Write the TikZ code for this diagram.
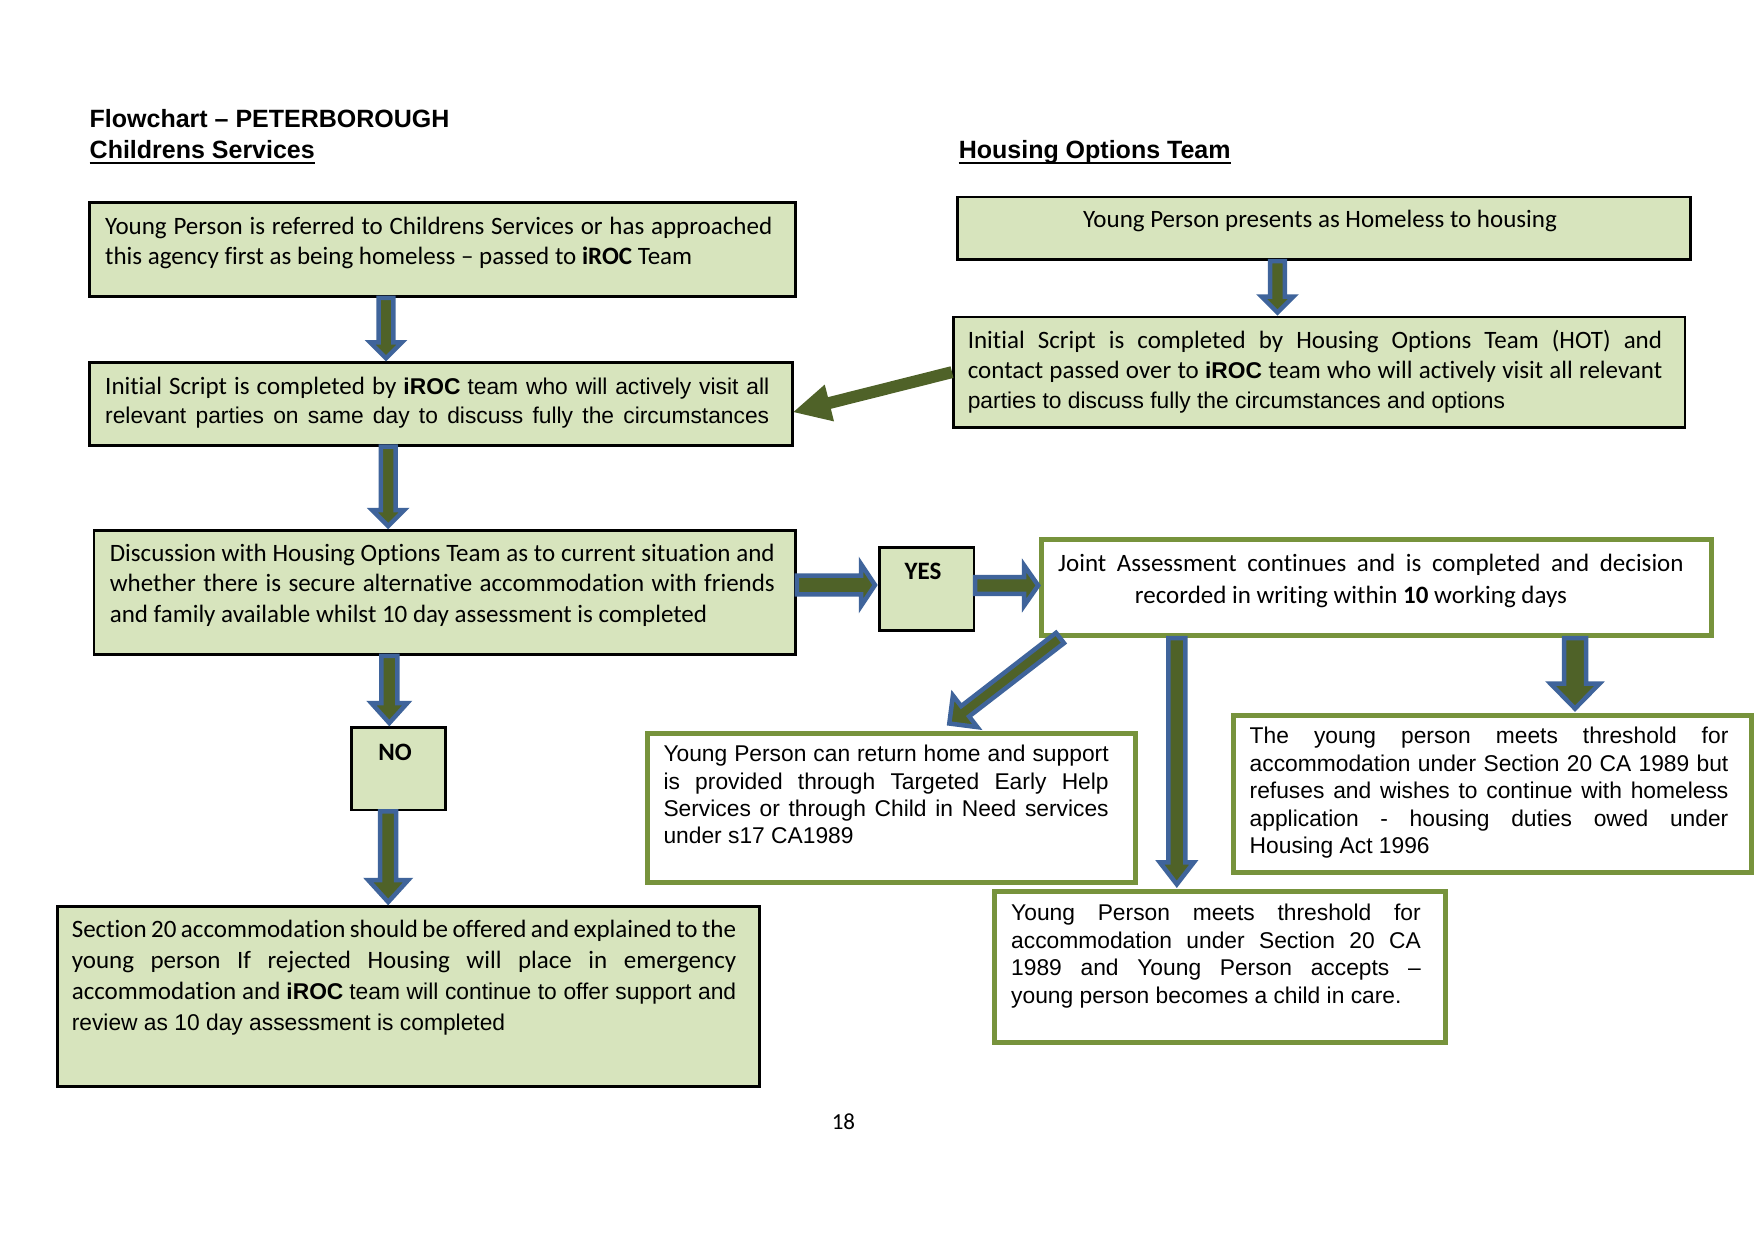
\documentclass[tikz,border=0pt]{standalone}
\usepackage{fontspec}
\setmainfont[Ligatures=NoCommon]{Carlito}
\newfontfamily\calib[Ligatures=NoCommon]{Carlito}
\newfontfamily\ari{Liberation Sans}
\usetikzlibrary{calc}
\definecolor{lg}{HTML}{D7E4BD}
\definecolor{bgreen}{HTML}{77933C}
\definecolor{olive}{HTML}{4F6228}
\definecolor{ablue}{HTML}{3F649B}
\newcommand\fC{\calib\fontsize{25}{30.5}\selectfont}
\newcommand\fA{\ari\fontsize{22.8}{27.4}\selectfont}
\newcommand\JL[2]{\hbox to #1pt{#2}}
\newcommand\NL[1]{\hbox{#1}}
\newcommand\barrow[6]{%
  \coordinate (ba-s) at (#2);
  \coordinate (ba-e) at (#3);
  \coordinate (ba-h) at ($(ba-e)!#6!(ba-s)$);
  \draw[#1] ($(ba-s)!#4!90:(ba-e)$) -- ($(ba-h)!#4!-90:(ba-s)$) -- ($(ba-h)!#5!-90:(ba-s)$) -- (ba-e) -- ($(ba-h)!#5!90:(ba-s)$) -- ($(ba-h)!#4!90:(ba-s)$) -- ($(ba-s)!#4!-90:(ba-e)$) -- cycle;}
\tikzset{
  cbox/.style={draw=black, line width=2.6pt, fill=lg, inner sep=0pt, anchor=north west},
  gbox/.style={draw=bgreen, line width=5pt, fill=white, inner sep=0pt, anchor=north west},
  txt/.style={inner sep=0pt, anchor=base west},
  blk/.style={draw=ablue, fill=olive, line width=4.5pt, line join=miter},
  garrow/.style={fill=olive, draw=none},
}
\begin{document}
\begin{tikzpicture}[x=1pt, y=-1pt]
\fill[white] (0,0) rectangle (1754,1240);
\path[use as bounding box] (0,0) rectangle (1754,1240);

% headings
\node[txt, font=\ari\fontsize{25}{30}\selectfont\bfseries] (title) at (89.5,127.5) {Flowchart – PETERBOROUGH};
\node[txt, font=\ari\fontsize{25}{30}\selectfont\bfseries] (tcs) at (89.5,158) {Childrens Services};
\node[txt, font=\ari\fontsize{25}{30}\selectfont\bfseries] (thot) at (958.6,158) {Housing Options Team};
\draw[line width=2pt] ([yshift=-4.5pt]tcs.base west) -- ([yshift=-4.5pt]tcs.base east);
\draw[line width=2pt] ([yshift=-4.5pt]thot.base west) -- ([yshift=-4.5pt]thot.base east);

% boxes
\node[cbox, minimum width=705.8pt, minimum height=94pt] (b1) at (88.4,201.3) {};
\node[cbox, minimum width=702.5pt, minimum height=82.8pt] (b2) at (88.4,361.3) {};
\node[cbox, minimum width=701.4pt, minimum height=124.2pt] (b3) at (92.8,529.1) {};
\node[cbox, minimum width=94.5pt, minimum height=83pt] (yes) at (878,546) {};
\node[cbox, minimum width=94pt, minimum height=82.7pt] (no) at (350.1,726) {};
\node[cbox, minimum width=702.5pt, minimum height=180pt] (s20) at (55.9,905) {};
\node[cbox, minimum width=732.7pt, minimum height=62.6pt] (h1) at (956.4,195.8) {};
\node[cbox, minimum width=731.5pt, minimum height=110.7pt] (h2) at (952,315.5) {};
\node[gbox, minimum width=670pt, minimum height=96pt] (ja) at (1039.2,537) {};
\node[gbox, minimum width=487.8pt, minimum height=149.9pt] (ret) at (645.4,730.5) {};
\node[gbox, minimum width=518pt, minimum height=157.7pt] (thr) at (1230.5,712.6) {};
\node[gbox, minimum width=450.8pt, minimum height=151pt] (acc) at (992.2,889.3) {};

% texts
\node[txt] (t1) at (105,234) {\vtop{\fC
  \JL{667}{Young Person is referred to Childrens Services or has approached}
  \NL{this agency first as being homeless – passed to \textbf{iROC} Team}}};
\node[txt] (t2) at (105,394) {\vtop{\calib\fontsize{25}{29}\selectfont
  \JL{664}{Initial Script is completed by {\fA\bfseries iROC} {\fA team who will actively visit all}}
  \JL{664}{\fA relevant parties on same day to discuss fully the circumstances}}};
\node[txt] (t3) at (109.6,561.5) {\vtop{\calib\fontsize{25}{30.3}\selectfont
  \JL{665}{Discussion with Housing Options Team as to current situation and}
  \JL{665}{whether there is secure alternative accommodation with friends}
  \NL{and family available whilst 10 day assessment is completed}}};
\node[anchor=base, inner sep=0pt, font=\fC\bfseries] (tyes) at (923,579.5) {YES};
\node[anchor=base, inner sep=0pt, font=\fC\bfseries] (tno) at (395,760) {NO};
\node[txt] (t4) at (71.6,937.4) {\vtop{\calib\fontsize{25}{31}\selectfont
  \JL{664.4}{Section 20 accommodation should be offered and explained to the}
  \JL{664.4}{young person If rejected Housing will place in emergency}
  \JL{664.4}{accommodation and {\fA\bfseries iROC} {\fA team will continue to offer support and}}
  \NL{\fA review as 10 day assessment is completed}}};
\node[anchor=base, inner sep=0pt, font=\fC] (th1) at (1320,227) {Young Person presents as Homeless to housing};
\node[txt] (th2) at (967.6,348) {\vtop{\calib\fontsize{25}{30}\selectfont
  \JL{694.4}{Initial Script is completed by Housing Options Team (HOT) and}
  \JL{694.4}{contact passed over to {\fA\bfseries iROC} team who will actively visit all relevant}
  \NL{\fA parties to discuss fully the circumstances and options}}};
\node[txt] (tja) at (1058,571.6) {\vtop{\calib\fontsize{25}{31.4}\selectfont
  \JL{625.5}{Joint Assessment continues and is completed and decision}
  \JL{625.5}{\hfil recorded in writing within \textbf{10} working days\hfil\hskip40pt}}};
\node[txt] (tret) at (663.3,761.8) {\vtop{\ari\fontsize{22.8}{27.2}\selectfont
  \JL{445.2}{Young Person can return home and support}
  \JL{445.2}{is provided through Targeted Early Help}
  \JL{445.2}{Services or through Child in Need services}
  \NL{under s17 CA1989}}};
\node[txt] (tthr) at (1249.5,743.9) {\vtop{\ari\fontsize{22.8}{27.4}\selectfont
  \JL{478.7}{The young person meets threshold for}
  \JL{478.7}{accommodation under Section 20 CA 1989 but}
  \JL{478.7}{refuses and wishes to continue with homeless}
  \JL{478.7}{application - housing duties owed under}
  \NL{Housing Act 1996}}};
\node[txt] (tacc) at (1011,920.6) {\vtop{\ari\fontsize{22.8}{27.6}\selectfont
  \JL{409.6}{Young Person meets threshold for}
  \JL{409.6}{accommodation under Section 20 CA}
  \JL{409.6}{1989 and Young Person accepts –}
  \NL{young person becomes a child in care.}}};
\node[anchor=base, inner sep=0pt, font=\calib\fontsize{23}{28}\selectfont] (pg) at (843.4,1129.8) {18};

% arrows
\barrow{blk}{386,0 |- b1.south}{$(386,0 |- b2.north)+(0,-3)$}{7.3pt}{16pt}{16pt}
\barrow{blk}{1277.5,0 |- h1.south}{$(1277.5,0 |- h2.north)+(0,-3)$}{7.3pt}{16pt}{16pt}
\barrow{blk}{388.2,0 |- b2.south}{$(388.2,0 |- b3.north)+(0,-3)$}{7.3pt}{16pt}{16pt}
\barrow{blk}{b3.east |- 0,585}{$(yes.west |- 0,585)+(-3,0)$}{9.4pt}{21pt}{14pt}
\barrow{blk}{yes.east |- 0,585.5}{$(ja.west |- 0,585.5)+(-1,0)$}{8.3pt}{20pt}{14pt}
\barrow{blk}{1060,0 |- ja.south}{$(949.3,0 |- ret.north)+(0,-7)$}{6.5pt}{20pt}{20pt}
\barrow{blk}{1176.8,0 |- ja.south}{$(1176.8,0 |- acc.north)+(0,-5)$}{8.5pt}{17pt}{22pt}
\barrow{blk}{1575,0 |- ja.south}{$(1575,0 |- thr.north)+(0,-4)$}{11pt}{24.5pt}{25pt}
\barrow{blk}{389.3,0 |- b3.south}{$(389.3,0 |- no.north)+(0,-3)$}{8pt}{18pt}{20pt}
\barrow{blk}{388.2,0 |- no.south}{$(388.2,0 |- s20.north)+(0,-3)$}{8pt}{20pt}{22pt}
\barrow{garrow}{h2.west}{$(b2.east)+(0,8)$}{6pt}{19pt}{37pt}
\end{tikzpicture}
\end{document}
